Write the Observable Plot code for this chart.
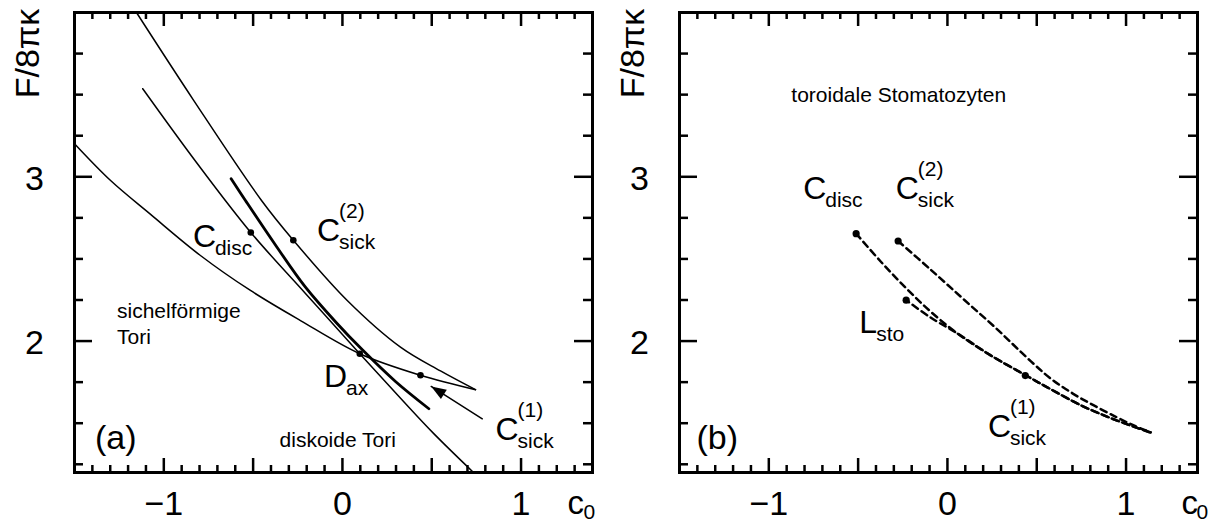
<!DOCTYPE html>
<html><head><meta charset="utf-8">
<script src="https://cdn.jsdelivr.net/npm/d3@7"></script>
<script src="https://cdn.jsdelivr.net/npm/@observablehq/plot@0.6"></script>
<style>
html,body{margin:0;padding:0;background:#fff;}
#chart{display:flex;width:1217px;height:523px;overflow:hidden;}
#chart svg{display:block;overflow:visible;}
</style></head>
<body><div id="chart"></div>
<script>
// ---------- shared axes ----------
const xDomain = [-1.5, 1.4];
const yDomain = [1.2, 4.0];
const xTickLabels = [-1, 0, 1];
const yTickLabels = [2, 3];
const yTitle = "F/8πκ";
const xTitleMain = "c";
const xTitleSub = "0";

// ---------- panel (a) curves [c0, F/8πκ] ----------
const aUpper  = [[-1.153,4.0],[-0.832,3.464],[-0.453,2.856],[-0.275,2.614],[0.027,2.247],[0.325,1.963],[0.549,1.818],[0.745,1.704]];
const aDisc   = [[-1.118,3.536],[-0.817,3.087],[-0.513,2.661],[-0.207,2.290],[0.097,1.923],[0.337,1.638],[0.510,1.438],[0.728,1.206]];
const aThick  = [[-0.623,2.988],[-0.543,2.856],[-0.375,2.585],[-0.207,2.328],[-0.039,2.118],[0.113,1.945],[0.297,1.754],[0.484,1.588]];
const aSickle = [[-1.5,3.201],[-1.298,2.977],[-1.074,2.771],[-0.795,2.521],[-0.515,2.308],[-0.235,2.125],[0.097,1.923],[0.437,1.792],[0.745,1.704]];
const aPoints = [[-0.513,2.661],[-0.275,2.614],[0.097,1.923],[0.437,1.792]];
const aArrowTail = [0.783,1.527];
const aArrowTip  = [0.497,1.724];

// panel (a) labels
const aLabelMain = ["C","C","D","C"];
const aLabelSub  = ["disc","sick","ax","sick"];
const aLabelSup  = ["","(2)","","(1)"];
const aLabelC    = [-0.837,-0.142,-0.103,0.857];
const aLabelF    = [2.570,2.612,1.718,1.395];
const aNotes     = ["sichelförmige","Tori","diskoide Tori"];
const aNotesC    = [-1.262,-1.262,-0.352];
const aNotesF    = [2.138,1.985,1.354];
const aTag = "(a)";

// ---------- panel (b) curves ----------
const bUpper = [[-0.276,2.609],[-0.095,2.436],[0.092,2.253],[0.279,2.071],[0.466,1.878],[0.578,1.772],[0.70,1.682],[0.82,1.608],[0.95,1.535],[1.05,1.483],[1.138,1.445]];
const bLower = [[-0.511,2.654],[-0.375,2.486],[-0.235,2.326],[-0.095,2.180],[0.055,2.047],[0.242,1.913],[0.438,1.792],[0.578,1.707],[0.765,1.600],[0.95,1.516],[1.138,1.443]];
const bSto   = [[-0.231,2.249],[-0.095,2.144],[0.055,2.047],[0.242,1.913],[0.438,1.792],[0.578,1.707],[0.765,1.600],[0.95,1.516],[1.138,1.443]];
const bPoints = [[-0.511,2.654],[-0.276,2.609],[-0.231,2.249],[0.436,1.790]];

const bLabelMain = ["C","C","L","C"];
const bLabelSub  = ["disc","sick","sto","sick"];
const bLabelSup  = ["","(2)","","(1)"];
const bLabelC    = [-0.807,-0.289,-0.493,0.227];
const bLabelF    = [2.867,2.867,2.047,1.415];
const bNotes     = ["toroidale Stomatozyten"];
const bNotesC    = [-0.874];
const bNotesF    = [3.457];
const bTag = "(b)";

// ---------- layout ----------
const FONT = "'Liberation Sans', Arial, Helvetica, sans-serif";
const H = 523, MT = 12, MB = 51;
const plotH = H - MT - MB;

const ctx = document.createElement("canvas").getContext("2d");
function textW(s, size) { ctx.font = `${size}px ${FONT}`; return ctx.measureText(s).width; }

function tickMarks(plotW) {
  const xs = d3.range(-14, 14).map(i => ({v: i / 10, long: i % 5 === 0}));
  const ys = d3.range(5, 16).map(k => ({v: k / 4, long: k % 4 === 0}));
  const xS = xs.filter(d => !d.long).map(d => d.v), xL = xs.filter(d => d.long).map(d => d.v);
  const yS = ys.filter(d => !d.long).map(d => d.v), yL = ys.filter(d => d.long).map(d => d.v);
  const o = {stroke: "black", strokeWidth: 2.5};
  return [
    Plot.ruleX(xS, {x: d => d, insetTop: plotH - 7, ...o}),
    Plot.ruleX(xL, {x: d => d, insetTop: plotH - 14, ...o}),
    Plot.ruleX(xS, {x: d => d, insetBottom: plotH - 7, ...o}),
    Plot.ruleX(xL, {x: d => d, insetBottom: plotH - 14, ...o}),
    Plot.ruleY(yS, {y: d => d, insetRight: plotW - 9, ...o}),
    Plot.ruleY(yL, {y: d => d, insetRight: plotW - 18, ...o}),
    Plot.ruleY(yS, {y: d => d, insetLeft: plotW - 9, ...o}),
    Plot.ruleY(yL, {y: d => d, insetLeft: plotW - 18, ...o}),
    Plot.frame({stroke: "black", strokeWidth: 3})
  ];
}

function axisText(cDx, subDx) {
  const fmt = d => d < 0 ? "\u2212" + Math.abs(d) : String(d);
  return [
    Plot.text(xTickLabels, {x: d => d, text: fmt, frameAnchor: "bottom", dy: 42, lineAnchor: "bottom", textAnchor: "middle", fontSize: 34}),
    Plot.text(yTickLabels, {y: d => d, text: fmt, frameAnchor: "left", dx: -40, dy: 13, lineAnchor: "bottom", textAnchor: "middle", fontSize: 34}),
    Plot.text([yTitle], {frameAnchor: "top-left", dx: -36, dy: 41, rotate: -90, textAnchor: "middle", lineAnchor: "bottom", fontSize: 34}),
    Plot.text([xTitleMain], {frameAnchor: "bottom-right", dx: cDx, dy: 41, textAnchor: "start", lineAnchor: "bottom", fontSize: 33}),
    Plot.text([xTitleSub], {frameAnchor: "bottom-right", dx: subDx, dy: 46, textAnchor: "start", lineAnchor: "bottom", fontSize: 21})
  ];
}

function labelMarks(main, sub, sup, cs, fs, kx) {
  const off = i => textW(main[i], 32) * 0.95 / kx;
  return [
    Plot.text(main, {x: (d, i) => cs[i], y: (d, i) => fs[i], text: d => d, textAnchor: "start", lineAnchor: "bottom", fontSize: 32}),
    Plot.text(sub, {x: (d, i) => cs[i] + off(i), y: (d, i) => fs[i], text: d => d, dy: 8, textAnchor: "start", lineAnchor: "bottom", fontSize: 21}),
    Plot.text(sup, {x: (d, i) => cs[i] + off(i), y: (d, i) => fs[i], text: d => d, dy: -23, textAnchor: "start", lineAnchor: "bottom", fontSize: 21})
  ];
}

function panel(width, ml, mr, marks) {
  return Plot.plot({
    width, height: H, marginLeft: ml, marginRight: mr, marginTop: MT, marginBottom: MB,
    x: {domain: xDomain, axis: null},
    y: {domain: yDomain, axis: null},
    style: {fontFamily: FONT, background: "white", color: "black", overflow: "visible"},
    marks
  });
}

const XY = {x: d => d[0], y: d => d[1]};

// ----- panel (a) -----
const wA = 605, mlA = 74, mrA = 13, plotWA = wA - mlA - mrA;
const kxA = plotWA / (xDomain[1] - xDomain[0]);
const kyA = plotH / (yDomain[1] - yDomain[0]);
const sx = (aArrowTip[0] - aArrowTail[0]) * kxA;
const sy = -(aArrowTip[1] - aArrowTail[1]) * kyA;
const headAngle = Math.atan2(sx, -sy) * 180 / Math.PI;
const headSymbol = {draw(c) { c.moveTo(0, 0); c.lineTo(-5.5, 15); c.lineTo(5.5, 15); c.closePath(); }};

const panelA = panel(wA, mlA, mrA, [
  ...tickMarks(plotWA),
  Plot.line(aUpper,  {...XY, curve: "catmull-rom", stroke: "black", strokeWidth: 1.5}),
  Plot.line(aDisc,   {...XY, curve: "catmull-rom", stroke: "black", strokeWidth: 1.5}),
  Plot.line(aSickle, {...XY, curve: "catmull-rom", stroke: "black", strokeWidth: 1.5}),
  Plot.line(aThick,  {...XY, curve: "catmull-rom", stroke: "black", strokeWidth: 2.8}),
  Plot.dot(aPoints,  {...XY, r: 3.3, fill: "black", stroke: "none"}),
  Plot.arrow([0], {x1: () => aArrowTail[0], y1: () => aArrowTail[1], x2: () => aArrowTip[0], y2: () => aArrowTip[1], headLength: 0, stroke: "black", strokeWidth: 1.5}),
  Plot.dot([aArrowTip], {...XY, symbol: headSymbol, rotate: headAngle, fill: "black", stroke: "none"}),
  ...labelMarks(aLabelMain, aLabelSub, aLabelSup, aLabelC, aLabelF, kxA),
  Plot.text(aNotes, {x: (d, i) => aNotesC[i], y: (d, i) => aNotesF[i], text: d => d, textAnchor: "start", lineAnchor: "bottom", fontSize: 21}),
  Plot.text([aTag], {x: () => -1.385, y: () => 1.345, text: d => d, textAnchor: "start", lineAnchor: "bottom", fontSize: 34}),
  ...axisText(-25, -9)
]);

// ----- panel (b) -----
const wB = 612, mlB = 74, mrB = 20, plotWB = wB - mlB - mrB;
const kxB = plotWB / (xDomain[1] - xDomain[0]);
const dash = {curve: "catmull-rom", stroke: "black", strokeWidth: 2.5, strokeDasharray: "6.5,4.5"};
const panelB = panel(wB, mlB, mrB, [
  ...tickMarks(plotWB),
  Plot.line(bUpper, {...XY, ...dash}),
  Plot.line(bLower, {...XY, ...dash}),
  Plot.line(bSto,   {...XY, ...dash, strokeDashoffset: 3}),
  Plot.dot(bPoints, {...XY, r: 3.6, fill: "black", stroke: "none"}),
  ...labelMarks(bLabelMain, bLabelSub, bLabelSup, bLabelC, bLabelF, kxB),
  Plot.text(bNotes, {x: (d, i) => bNotesC[i], y: (d, i) => bNotesF[i], text: d => d, textAnchor: "start", lineAnchor: "bottom", fontSize: 21}),
  Plot.text([bTag], {x: () => -1.405, y: () => 1.345, text: d => d, textAnchor: "start", lineAnchor: "bottom", fontSize: 34}),
  ...axisText(-16, -1)
]);

const root = document.getElementById("chart");
root.append(panelA, panelB);
</script>
</body></html>
